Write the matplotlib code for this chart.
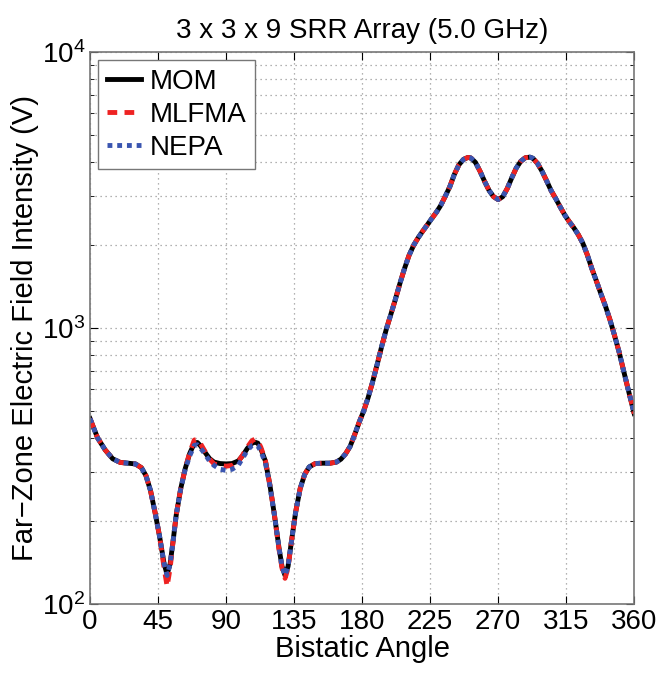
import numpy as np
import matplotlib
matplotlib.use("Agg")
import matplotlib.pyplot as plt
from matplotlib.ticker import LogLocator, NullFormatter

plt.rcParams['font.family'] = ['Liberation Sans', 'DejaVu Sans']

# bistatic angle (deg)
angles = [0, 5, 10, 15, 20, 25, 30, 34, 37, 40,
          43, 46, 49, 51, 53, 55, 57, 60, 63, 66,
          69, 71, 73, 76, 79, 82, 86, 90, 94, 98,
          101, 104, 107, 109, 111, 113, 116, 119, 122, 125,
          127, 129, 131, 133, 136, 139, 142, 145, 149, 154,
          159, 163, 166, 169, 172, 175, 178, 181, 184, 187,
          190, 193, 196, 199, 202, 205, 208, 211, 214, 217,
          220, 223, 226, 229, 232, 235, 238, 241, 244, 247,
          250, 252, 255, 258, 261, 264, 267, 270, 273, 276,
          279, 282, 285, 288, 291, 293, 296, 299, 302, 305,
          308, 311, 314, 317, 320, 323, 326, 329, 332, 335,
          338, 341, 344, 347, 350, 353, 356, 360]

mom = [470, 400, 362, 336, 326, 324, 322, 312, 292, 258,
       215, 176, 140, 128, 140, 170, 210, 262, 310, 352,
       383, 385, 375, 355, 337, 327, 323, 322, 323, 330,
       345, 366, 382, 386, 383, 365, 330, 270, 210, 160,
       137, 127, 137, 165, 215, 262, 295, 314, 323, 324,
       324, 327, 335, 350, 372, 410, 455, 500, 560, 640,
       740, 860, 990, 1120, 1270, 1450, 1640, 1830, 1990, 2120,
       2240, 2360, 2490, 2620, 2780, 3000, 3250, 3600, 3900, 4080,
       4150, 4130, 3980, 3700, 3400, 3150, 2990, 2920, 2990, 3200,
       3500, 3800, 4020, 4140, 4160, 4120, 3950, 3700, 3420, 3150,
       2950, 2750, 2570, 2430, 2310, 2180, 2030, 1840, 1640, 1480,
       1330, 1200, 1070, 940, 820, 700, 600, 490]

mlfma = [470, 400, 362, 336, 326, 324, 322, 312, 292, 258,
         215, 176, 135, 116, 135, 170, 210, 262, 310, 355,
         393, 395, 382, 358, 336, 322, 318, 316, 318, 328,
         347, 370, 390, 396, 390, 370, 332, 270, 210, 158,
         135, 124, 135, 165, 215, 262, 295, 314, 323, 324,
         324, 327, 335, 350, 372, 410, 455, 500, 560, 640,
         740, 860, 990, 1120, 1270, 1450, 1640, 1830, 1990, 2120,
         2240, 2360, 2490, 2620, 2780, 3000, 3250, 3600, 3900, 4080,
         4150, 4130, 3980, 3700, 3400, 3150, 2990, 2920, 2990, 3200,
         3500, 3800, 4020, 4140, 4160, 4120, 3950, 3700, 3420, 3150,
         2950, 2750, 2570, 2430, 2310, 2180, 2030, 1840, 1640, 1480,
         1330, 1200, 1070, 940, 820, 700, 600, 490]

nepa = [470, 400, 362, 336, 326, 324, 322, 312, 292, 258,
        215, 176, 140, 127, 140, 170, 210, 262, 308, 345,
        376, 378, 368, 350, 330, 318, 308, 305, 308, 318,
        338, 360, 375, 378, 374, 358, 325, 268, 210, 160,
        137, 127, 137, 165, 215, 262, 295, 314, 323, 324,
        324, 327, 335, 350, 372, 410, 455, 500, 560, 640,
        740, 860, 990, 1120, 1270, 1450, 1640, 1830, 1990, 2120,
        2240, 2360, 2490, 2620, 2780, 3000, 3250, 3600, 3900, 4080,
        4150, 4130, 3980, 3700, 3400, 3150, 2990, 2920, 2990, 3200,
        3500, 3800, 4020, 4140, 4160, 4120, 3950, 3700, 3420, 3150,
        2950, 2750, 2570, 2430, 2310, 2180, 2030, 1840, 1640, 1480,
        1330, 1200, 1070, 940, 820, 700, 600, 490]

xticks = [0, 45, 90, 135, 180, 225, 270, 315, 360]

fig = plt.figure(figsize=(6.62, 6.75), dpi=100)
ax = fig.add_axes([0.136, 0.105, 0.822, 0.818])

ax.plot(angles, mom, color='black', lw=3.5, label='MOM')
ax.plot(angles, mlfma, color='#ee2222', lw=3.5, ls=(0, (2, 1.5)), label='MLFMA')
ax.plot(angles, nepa, color='#3a55b0', lw=3.5, ls=(0, (1, 1)), label='NEPA')

ax.set_yscale('log')
ax.set_xlim(0, 360)
ax.set_ylim(100, 10000)
ax.set_xticks(xticks)
ax.yaxis.set_minor_locator(LogLocator(base=10, subs=np.arange(2, 10)))
ax.yaxis.set_minor_formatter(NullFormatter())

grid_style = dict(color='#999999', ls=(0, (1, 3)), lw=0.9)
ax.grid(True, which='major', axis='both', **grid_style)
ax.grid(True, which='minor', axis='y', **grid_style)

ax.tick_params(which='both', direction='in', top=True, right=True, labelsize=20)
ax.tick_params(which='major', length=6)
ax.tick_params(which='minor', length=3)
for s in ax.spines.values():
    s.set_color('#777777')
    s.set_linewidth(1.2)

ax.set_title('3 x 3 x 9 SRR Array (5.0 GHz)', fontsize=20, pad=10)
ax.set_xlabel('Bistatic Angle', fontsize=21, labelpad=0)
ax.set_ylabel('Far\u2212Zone Electric Field Intensity (V)', fontsize=21, labelpad=2)

leg = ax.legend(loc='upper left', fontsize=20, fancybox=False, framealpha=1,
                edgecolor='#777777', handlelength=1.25, handletextpad=0.3,
                borderaxespad=0.3, labelspacing=0.25, borderpad=0.3)
leg.get_frame().set_linewidth(1.0)

fig.savefig('out.png', dpi=100)
